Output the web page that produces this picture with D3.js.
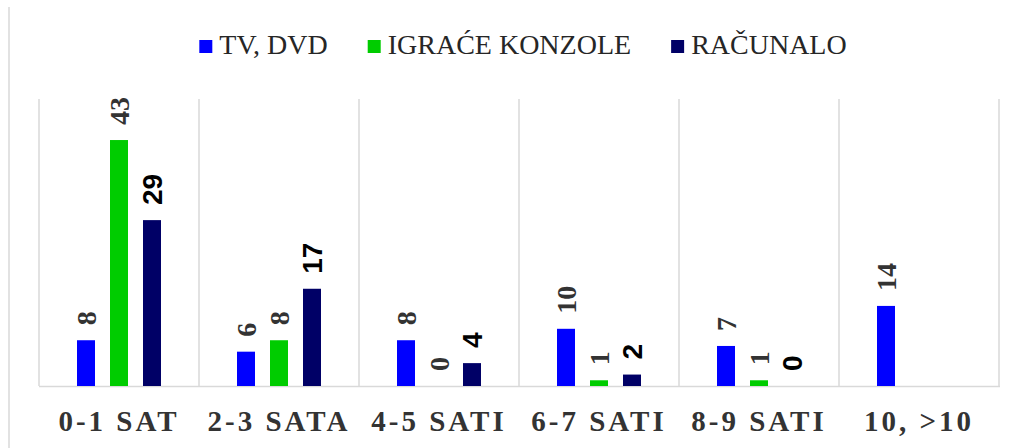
<!DOCTYPE html>
<html>
<head>
<meta charset="utf-8">
<script src="https://cdn.jsdelivr.net/npm/d3@7"></script>
<style>
  html, body { margin: 0; padding: 0; background: #fff; }
  svg { display: block; }
</style>
</head>
<body>
<svg id="chart" width="1017" height="448"></svg>
<script>
const categories = ["0-1 SAT", "2-3 SATA", "4-5 SATI", "6-7 SATI", "8-9 SATI", "10, >10"];
const seriesNames = ["TV, DVD", "IGRAĆE KONZOLE", "RAČUNALO"];
const tvDvd = [8, 6, 8, 10, 7, 14];
const konzole = [43, 8, 0, 1, 1, null];
const racunalo = [29, 17, 4, 2, 0, null];
const seriesColors = ["#0000FF", "#00CC00", "#000066"];
const yMax = 50;

const seriesValues = [tvDvd, konzole, racunalo];
const svg = d3.select("#chart");
const W = 1017, H = 448;
const plot = { left: 39, right: 999, top: 99, bottom: 386 };

const x0 = d3.scaleBand().domain(categories).range([plot.left, plot.right]).padding(0);
const y = d3.scaleLinear().domain([0, yMax]).range([plot.bottom, 100]);
const gridColor = "#d9d9d9";

// outer chart border (left edge visible)
svg.append("line").attr("x1", 9).attr("x2", 9).attr("y1", 7).attr("y2", H)
  .attr("stroke", gridColor).attr("stroke-width", 1.5);

// vertical category gridlines
const bounds = categories.map(c => x0(c)).concat([x0(categories[categories.length - 1]) + x0.bandwidth()]);
svg.append("g").selectAll("line").data(bounds).join("line")
  .attr("x1", d => d).attr("x2", d => d)
  .attr("y1", plot.top).attr("y2", plot.bottom)
  .attr("stroke", gridColor).attr("stroke-width", 1.5);

// baseline
svg.append("line").attr("x1", plot.left).attr("x2", plot.right + 1)
  .attr("y1", plot.bottom + 0.5).attr("y2", plot.bottom + 0.5)
  .attr("stroke", gridColor).attr("stroke-width", 1.5);

// bars
const data = [];
categories.forEach((c, i) => {
  seriesNames.forEach((s, j) => {
    data.push({ cat: c, series: s, j, value: seriesValues[j][i] });
  });
});

const x1 = d3.scaleBand().domain(seriesNames).range([-42, 42]).paddingInner(15 / 33).paddingOuter(0);
const center = c => x0(c) + x0.bandwidth() / 2;

svg.append("g").selectAll("rect").data(data.filter(d => d.value != null)).join("rect")
  .attr("x", d => center(d.cat) + x1(d.series))
  .attr("width", x1.bandwidth())
  .attr("y", d => y(d.value))
  .attr("height", d => y(0) - y(d.value))
  .attr("fill", d => seriesColors[d.j]);

// data labels (rotated)
svg.append("g").selectAll("text").data(data.filter(d => d.value != null)).join("text")
  .attr("transform", d => `translate(${center(d.cat) + x1(d.series) + x1.bandwidth() / 2},${y(d.value) - 15}) rotate(-90)`)
  .attr("dy", "0.36em")
  .attr("text-anchor", "start")
  .style("font-family", d => d.j === 2 ? "'Liberation Sans', Arial, sans-serif" : "'Liberation Serif', 'Times New Roman', serif")
  .style("font-weight", "bold")
  .style("font-size", "28px")
  .attr("fill", d => d.j === 2 ? "#000000" : "#333333")
  .text(d => d.value);

// category labels
svg.append("g").selectAll("text").data(categories).join("text")
  .attr("x", d => center(d))
  .attr("y", 431)
  .attr("text-anchor", "middle")
  .style("font-family", "'Liberation Serif', 'Times New Roman', serif")
  .style("font-weight", "bold")
  .style("font-size", "29px")
  .style("letter-spacing", "3px")
  .attr("fill", "#333333")
  .text(d => d);

// legend
const legend = svg.append("g");
const items = legend.selectAll("g").data(seriesNames).join("g");
items.append("rect").attr("width", 13).attr("height", 13).attr("y", 40)
  .attr("fill", (d, i) => seriesColors[i]);
items.append("text").attr("x", 20).attr("y", 54)
  .style("font-family", "'Liberation Serif', 'Times New Roman', serif")
  .style("font-size", "28px")
  .attr("fill", "#262626")
  .text(d => d);
const widths = [];
items.each(function () {
  const w = 20 + d3.select(this).select("text").node().getComputedTextLength();
  widths.push(w);
});
const gap = 40;
const total = d3.sum(widths) + gap * (widths.length - 1);
let start = 523 - total / 2;
items.attr("transform", (d, i) => {
  const t = `translate(${start},0)`;
  start += widths[i] + gap;
  return t;
});
</script>
</body>
</html>
